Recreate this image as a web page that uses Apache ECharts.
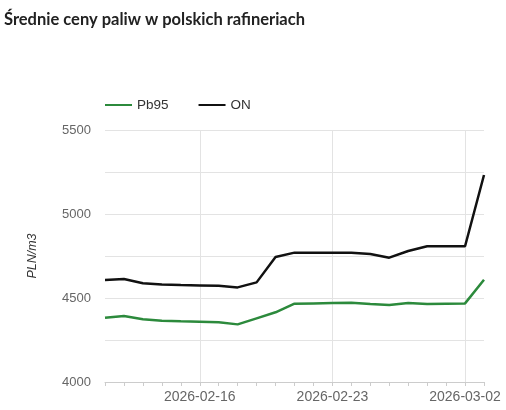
<!DOCTYPE html>
<html><head><meta charset="utf-8">
<script src="https://cdn.jsdelivr.net/npm/echarts@6/dist/echarts.min.js"></script>
<style>html,body{margin:0;padding:0;background:#fff}#c{width:506px;height:410px}</style>
</head><body><div id="c"></div>
<script>
var dates = ['2026-02-11','2026-02-12','2026-02-13','2026-02-14','2026-02-15','2026-02-16','2026-02-17','2026-02-18','2026-02-19','2026-02-20','2026-02-21','2026-02-22','2026-02-23','2026-02-24','2026-02-25','2026-02-26','2026-02-27','2026-02-28','2026-03-01','2026-03-02','2026-03-03'];
var labeledDates = ['2026-02-16','2026-02-23','2026-03-02'];
var pb95 = [4383,4393,4373,4365,4361,4359,4355,4343,4379,4415,4466,4468,4470,4472,4464,4458,4470,4464,4466,4468,4609];
var on = [4607,4613,4588,4580,4577,4575,4573,4563,4593,4744,4770,4770,4770,4770,4762,4740,4780,4808,4808,4808,5232];
var yTicks = [4000,4500,5000,5500];

var chart = echarts.init(document.getElementById('c'));
chart.setOption({
  animation:false,
  title:{text:'Średnie ceny paliw w polskich rafineriach',left:4,top:11,padding:0,
    textStyle:{fontFamily:'Lato',fontWeight:'bold',fontSize:16.5,color:'#222'}},
  legend:{left:100,top:93,itemWidth:27,itemHeight:2,itemGap:30,icon:'rect',
    textStyle:{fontFamily:'Liberation Sans',fontSize:13.5,color:'#333'},
    data:['Pb95','ON']},
  grid:{left:105,right:22,top:130,bottom:28},
  xAxis:{type:'category',data:dates,boundaryGap:false,
    axisLine:{lineStyle:{color:'#ccc'}},
    axisTick:{show:true,interval:0,length:4,lineStyle:{color:'#ccc'}},
    axisLabel:{interval:function(i,v){return labeledDates.indexOf(v)>=0;},
      fontFamily:'Liberation Sans',fontSize:14,color:'#666',margin:8},
    splitLine:{show:true,interval:function(i,v){return labeledDates.indexOf(v)>=0;},lineStyle:{color:'#e3e3e3'}}},
  yAxis:{type:'value',min:4000,max:5500,interval:250,
    name:'PLN/m3',nameLocation:'middle',nameGap:66,
    nameTextStyle:{fontFamily:'Liberation Sans',fontStyle:'italic',fontSize:12.5,color:'#333'},
    axisLine:{show:false},axisTick:{show:false},
    axisLabel:{fontFamily:'Liberation Sans',fontSize:13,color:'#666',margin:14,
      formatter:function(v){return yTicks.indexOf(v)>=0?String(v):'';}},
    splitLine:{lineStyle:{color:'#e3e3e3'}}},
  series:[
    {name:'Pb95',type:'line',data:pb95,symbol:'none',color:'#2c8a3c',lineStyle:{width:2.5,color:'#2c8a3c'}},
    {name:'ON',type:'line',data:on,symbol:'none',color:'#111',lineStyle:{width:2.5,color:'#111'}}
  ]
});
</script></body></html>
